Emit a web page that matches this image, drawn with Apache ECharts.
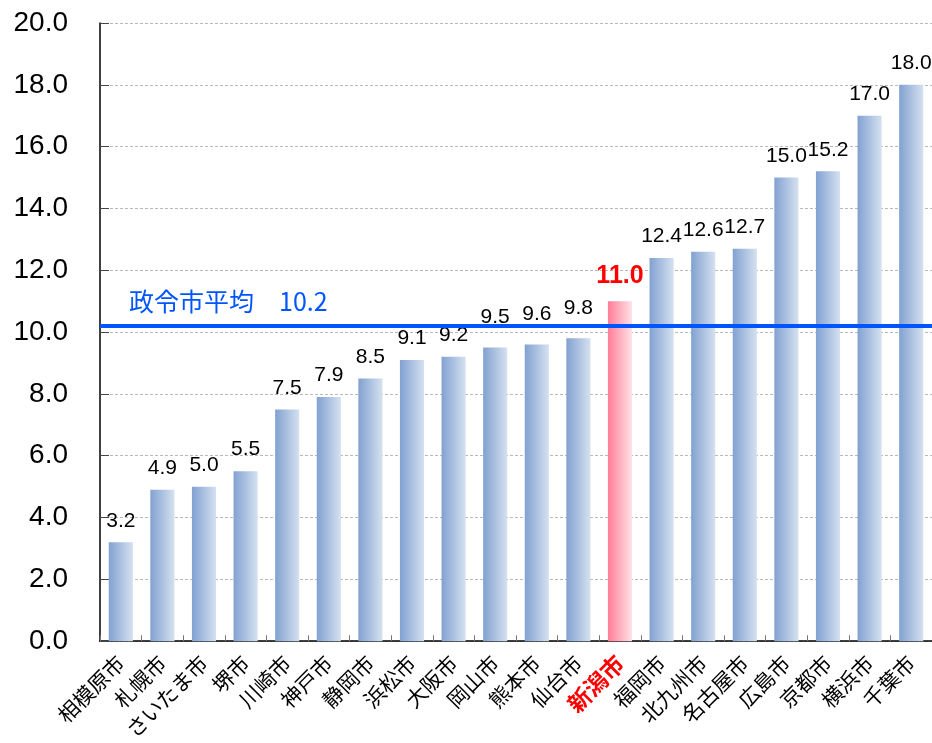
<!DOCTYPE html>
<html>
<head>
<meta charset="utf-8">
<script src="https://cdn.jsdelivr.net/npm/echarts@6/dist/echarts.min.js"></script>
<style>
  html, body { margin: 0; padding: 0; background: #fff; }
  #chart { width: 932px; height: 743px; }
</style>
</head>
<body>
<div id="chart"></div>
<script>
const cities = ["相模原市", "札幌市", "さいたま市", "堺市", "川崎市", "神戸市", "静岡市", "浜松市", "大阪市", "岡山市",
  "熊本市", "仙台市", "新潟市", "福岡市", "北九州市", "名古屋市", "広島市", "京都市", "横浜市", "千葉市"];
const values = [3.2, 4.9, 5.0, 5.5, 7.5, 7.9, 8.5, 9.1, 9.2, 9.5, 9.6, 9.8, 11.0, 12.4, 12.6, 12.7, 15.0, 15.2, 17.0, 18.0];
const highlightCity = "新潟市";
// labels lifted above the average line in the original
const raisedLabels = ["岡山市", "熊本市", "仙台市"];
const averageValue = 10.2;
const averageName = "政令市平均";

const fontLatin = "Liberation Sans, Arial, sans-serif";
const fontJp = "Noto Sans CJK JP, sans-serif";

const blueBar = new echarts.graphic.LinearGradient(0, 0, 1, 0, [
  { offset: 0, color: "#82a1d1" },
  { offset: 1, color: "#d5e1f0" },
]);
const pinkBar = new echarts.graphic.LinearGradient(0, 0, 1, 0, [
  { offset: 0, color: "#ff7d97" },
  { offset: 1, color: "#ffe2e8" },
]);

function barLabel(city) {
  if (city === highlightCity) {
    return { color: "#ff0000", fontWeight: "bold", fontSize: 25, distance: 13 };
  }
  if (raisedLabels.includes(city)) return { distance: 20 };
  return undefined;
}

const chart = echarts.init(document.getElementById("chart"), null, { renderer: "canvas" });

chart.setOption({
  animation: false,
  backgroundColor: "#fff",
  grid: { left: 100, right: 0, top: 23, bottom: 101, containLabel: false },
  xAxis: {
    type: "category",
    data: cities,
    axisLine: { lineStyle: { color: "#000", width: 1.5 } },
    axisTick: { show: true, inside: true, length: 6, lineStyle: { color: "#777" } },
    axisLabel: {
      interval: 0,
      rotate: 45,
      margin: 18,
      fontSize: 21,
      fontFamily: fontJp,
      color: "#000",
      formatter: (v) => (v === highlightCity ? "{hl|" + v + "}" : v),
      rich: {
        hl: { color: "#ff0000", fontWeight: "bold", fontSize: 23, fontFamily: fontJp },
      },
    },
  },
  yAxis: {
    type: "value",
    min: 0,
    max: 20,
    interval: 2,
    axisLine: { show: true, lineStyle: { color: "#000", width: 1.5 } },
    axisTick: { show: true, inside: true, length: 9, lineStyle: { color: "#444" } },
    axisLabel: {
      fontSize: 28,
      fontFamily: fontLatin,
      color: "#000",
      margin: 32,
      formatter: (v) => v.toFixed(1),
    },
    splitLine: { show: true, lineStyle: { color: "#b8b8b8", type: [3, 2], width: 1 } },
  },
  series: [
    {
      type: "bar",
      barWidth: "58%",
      data: cities.map((c, i) => ({
        value: values[i],
        itemStyle: { color: c === highlightCity ? pinkBar : blueBar },
        label: barLabel(c),
      })),
      label: {
        show: true,
        position: "top",
        distance: 11,
        fontSize: 21,
        fontFamily: fontLatin,
        color: "#000",
        formatter: (p) => p.value.toFixed(1),
      },
      markLine: {
        silent: true,
        symbol: "none",
        lineStyle: { color: "#0055ff", width: 4, type: "solid" },
        label: {
          position: "insideStartTop",
          formatter: averageName + "　" + averageValue.toFixed(1),
          color: "#0055ff",
          fontSize: 25,
          fontFamily: fontJp,
          distance: [29, 12],
        },
        data: [{ yAxis: averageValue }],
      },
    },
  ],
});
</script>
</body>
</html>
